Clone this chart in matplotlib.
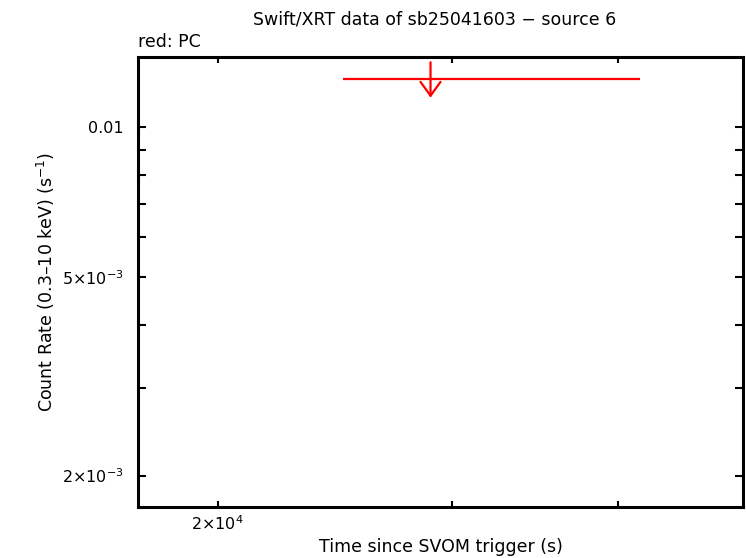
import matplotlib
matplotlib.use("Agg")
import matplotlib.pyplot as plt
from matplotlib.ticker import FixedLocator, NullFormatter, FixedFormatter

plt.rcParams['font.family'] = ['DejaVu Sans']
plt.rcParams['mathtext.fontset'] = 'dejavusans'

# Data (PC upper limit)
time = [2.892e4]
time_lo = [2.484e4]
time_hi = [4.155e4]
rate_ul = [0.01246]

xmajor = [2e4]
xmajor_labels = [r'$2{\times}10^{4}$']
xminor = [3e4, 4e4]
ymajor = [2e-3, 5e-3, 1e-2]
ymajor_labels = [r'$2{\times}10^{-3}$', r'$5{\times}10^{-3}$', '0.01']
yminor = [3e-3, 4e-3, 6e-3, 7e-3, 8e-3, 9e-3]

W, H = 746, 558
fig = plt.figure(figsize=(W / 100, H / 100), dpi=100)
L, R, T, B = 138, 743, 57, 507
ax = fig.add_axes([L / W, 1 - B / H, (R - L) / W, (B - T) / H])
ax.set_xscale('log')
ax.set_yscale('log')
ax.set_xlim(1.742e4, 4.97e4)
ax.set_ylim(1.73e-3, 0.0138)

for t, lo, hi, r in zip(time, time_lo, time_hi, rate_ul):
    ax.plot([lo, hi], [r, r], color='red', lw=1.6, solid_capstyle='butt')
    ax.annotate('', xy=(t, r * 0.918), xytext=(t, r * 1.081),
                arrowprops=dict(arrowstyle='->, head_length=0.5, head_width=0.36',
                                color='red', lw=1.6,
                                mutation_scale=20, shrinkA=0, shrinkB=0))

ax.xaxis.set_major_locator(FixedLocator(xmajor))
ax.xaxis.set_major_formatter(FixedFormatter(xmajor_labels))
ax.xaxis.set_minor_locator(FixedLocator(xminor))
ax.xaxis.set_minor_formatter(NullFormatter())
ax.yaxis.set_major_locator(FixedLocator(ymajor))
ax.yaxis.set_major_formatter(FixedFormatter(ymajor_labels))
ax.yaxis.set_minor_locator(FixedLocator(yminor))
ax.yaxis.set_minor_formatter(NullFormatter())

ax.tick_params(which='both', direction='in', top=True, right=True,
               width=1.5, labelsize=11.5)
ax.tick_params(axis='y', which='both', length=6, pad=10)
ax.tick_params(axis='x', which='both', length=4, pad=5)
for s in ax.spines.values():
    s.set_linewidth(2.2)

fig.text(441 / W, 1 - 547 / H, 'Time since SVOM trigger (s)', ha='center', va='center', fontsize=12.5)
fig.text(46 / W, 1 - 282 / H, 'Count Rate (0.3\u201310 keV) (s$^{-1}$)', ha='center', va='center',
         rotation=90, fontsize=12.5)
fig.text(435 / W, 1 - 20 / H, 'Swift/XRT data of sb25041603 \u2212 source 6', ha='center', va='center', fontsize=12.5)
fig.text(138 / W, 1 - 42 / H, 'red: PC', ha='left', va='center', fontsize=12.5)

fig.savefig('out.png', dpi=100)
